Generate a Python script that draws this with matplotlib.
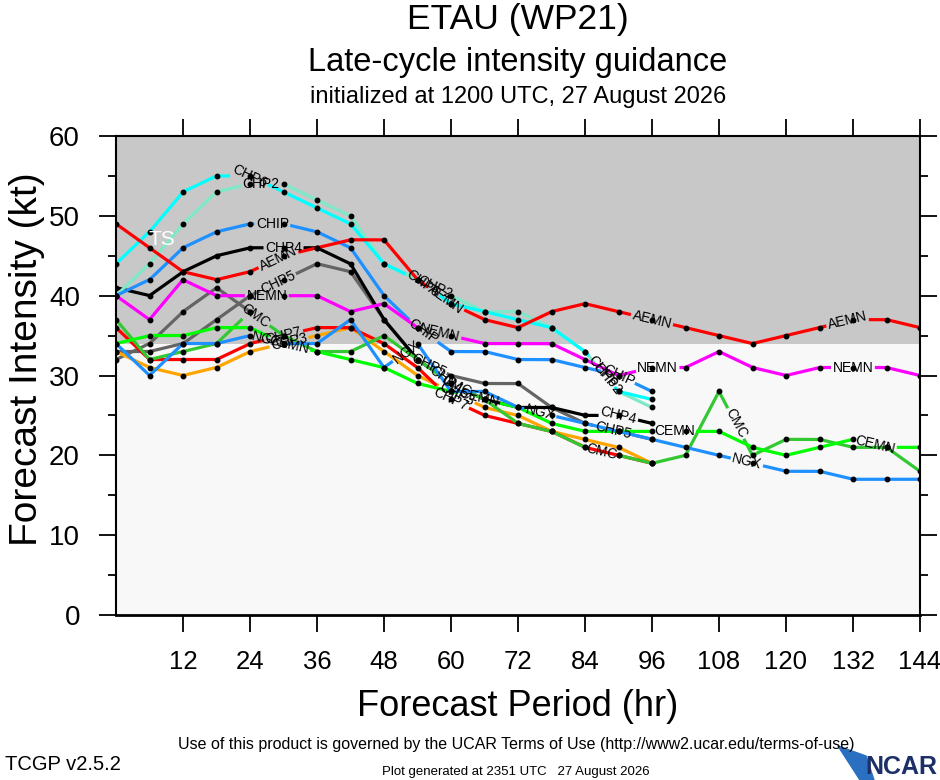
import numpy as np
import matplotlib
matplotlib.use('Agg')
import matplotlib.pyplot as plt
from matplotlib.patches import Polygon

plt.rcParams['font.family'] = ['Liberation Sans', 'DejaVu Sans']

# forecast hours every 6 h, intensities in kt
step = 6
aemn = [49, 46, 43, 42, 43, 45, 46, 47, 47, 42, 39, 37, 36, 38, 39, 38, 37,
        36, 35, 34, 35, 36, 37, 37, 36]
nemn = [40, 37, 42, 40, 40, 40, 40, 38, 39, 36, 35, 34, 34, 34, 32, 30, 31,
        31, 33, 31, 30, 31, 31, 31, 30]
cemn = [34, 35, 35, 36, 36, 34, 33, 32, 31, 29, 28, 27, 26, 24, 23, 23, 23,
        23, 23, 21, 20, 21, 22, 21, 21]
cmc = [37, 32, 33, 34, 38, 35, 33, 33, 35, 32, 29, 27, 24, 23, 21, 20, 19,
       20, 28, 20, 22, 22, 21, 21, 18]
ngx = [34, 30, 34, 34, 35, 34, 34, 37, 31, 34, 28, 28, 26, 25, 24, 23, 22,
       21, 20, 19, 18, 18, 17, 17, 17]
chip = [40, 42, 46, 48, 49, 49, 48, 46, 40, 36, 33, 33, 32, 32, 31, 30, 28]
chp2 = [40, 44, 49, 53, 54, 54, 52, 50, 44, 42, 40, 38, 38, 36, 33, 28, 26]
chp3 = [33, 31, 30, 31, 33, 34, 35, 36, 33, 30, 28, 26, 25, 23, 22, 21, 19]
chp4 = [41, 40, 43, 45, 46, 46, 46, 44, 37, 32, 29, 27, 26, 26, 25, 25, 24]
chp5 = [33, 33, 34, 37, 40, 42, 44, 43, 37, 32, 30, 29, 29, 26, 24, 23, 22]
chp6 = [44, 48, 53, 55, 55, 53, 51, 49, 44, 42, 39, 38, 37, 36, 33, 28, 27]
chp7 = [36, 32, 32, 32, 34, 35, 36, 36, 34, 31, 27, 25, 24, 23, 21, 20, 19]
short = [32, 34, 38, 41, 38]
ts_line = 34

# (name, values, colour, label hours)
models = [
    ('', short, '#646464', []),
    ('CHP5', chp5, '#646464', [29, 56, 89]),
    ('CHP4', chp4, 'black', [30, 59, 90]),
    ('CHP2', chp2, '#7fe8c8', [26, 57, 88]),
    ('CHP6', chp6, 'cyan', [24, 55, 87]),
    ('CHIP', chip, '#1e90ff', [28, 55, 90]),
    ('CHP3', chp3, 'orange', [31, 61]),
    ('CHP7', chp7, 'red', [30, 60]),
    ('CMC', cmc, '#32c832', [25, 61, 87, 111]),
    ('CEMN', cemn, '#00ff00', [31, 65, 100, 136]),
    ('NGX', ngx, '#1e90ff', [27, 52, 76, 113]),
    ('NEMN', nemn, 'magenta', [27, 58, 97, 132]),
    ('AEMN', aemn, 'red', [29, 59, 96, 131]),
]

fig = plt.figure(figsize=(9.4, 7.8), dpi=100)
ax = fig.add_axes([116 / 940, 165 / 780, 804 / 940, 479 / 780])
ax.set_xlim(0, 144)
ax.set_ylim(0, 60)
ax.set_facecolor('#f8f8f8')
ax.axhspan(ts_line, 60, color='#c8c8c8', zorder=0, lw=0)

fig.canvas.draw()
renderer = fig.canvas.get_renderer()
inv = ax.transData.inverted()


def text_width(s):
    t = ax.text(0, 0, s, fontsize=10)
    w = t.get_window_extent(renderer).width
    t.remove()
    return w


for k, (name, vals, col, lab_hrs) in enumerate(models):
    hrs = np.arange(len(vals)) * step
    pts = ax.transData.transform(np.column_stack([hrs, vals]))
    seg = np.hypot(np.diff(pts[:, 0]), np.diff(pts[:, 1]))
    s = np.concatenate([[0], np.cumsum(seg)])
    sd = np.union1d(np.linspace(0, s[-1], 3000), s)
    xd = np.interp(sd, s, pts[:, 0])
    yd = np.interp(sd, s, pts[:, 1])
    w = text_width(name) if name else 0
    for h in lab_hrs:
        sc = np.interp(h, hrs, s)
        gap = np.abs(sd - sc) < w / 2 + 3
        xd[gap] = np.nan
        yd[gap] = np.nan
        i = min(int(h // step), len(vals) - 2)
        v = np.interp(h, hrs, vals)
        ang = np.degrees(np.arctan2(pts[i + 1, 1] - pts[i, 1],
                                    pts[i + 1, 0] - pts[i, 0]))
        ax.text(h, v, name, fontsize=10, rotation=ang, rotation_mode='anchor',
                ha='center', va='center', zorder=4)
    line = inv.transform(np.column_stack([xd, yd]))
    ax.plot(line[:, 0], line[:, 1], color=col, lw=2.3, zorder=2 + k * 0.01)
    ax.plot(hrs, vals, 'o', color='black', ms=3.2, zorder=3)

ax.text(8.2, 47, 'TS', color='white', fontsize=15, ha='center', va='center',
        zorder=4)

ax.set_xticks(np.arange(12, 145, 12))
ax.set_yticks(np.arange(0, 61, 10))
ax.set_yticks(np.arange(5, 60, 10), minor=True)
ax.tick_params(axis='both', which='major', direction='out', length=12,
               width=1.3)
ax.tick_params(axis='x', which='major', labelsize=18.5, pad=13, top=True)
ax.tick_params(axis='y', which='major', labelsize=20, pad=14, right=True)
ax.tick_params(axis='y', which='minor', direction='out', length=6, width=1.3,
               right=True)
for sp in ax.spines.values():
    sp.set_linewidth(1.5)
ax.spines['bottom'].set_linewidth(2)

fig.text(518 / 940, 1 - 706 / 780, 'Forecast Period (hr)', fontsize=26,
         ha='center', va='center')
fig.text(27 / 940, 1 - 359 / 780, 'Forecast Intensity (kt)', fontsize=28,
         ha='center', va='center', rotation=90)

fig.text(518 / 940, 1 - 19 / 780, 'ETAU (WP21)', fontsize=25.5,
         ha='center', va='center')
fig.text(518 / 940, 1 - 62 / 780, 'Late-cycle intensity guidance',
         fontsize=23.5, ha='center', va='center')
fig.text(518 / 940, 1 - 97 / 780, 'initialized at 1200 UTC, 27 August 2026',
         fontsize=17, ha='center', va='center')

fig.text(516 / 940, 1 - 745 / 780,
         'Use of this product is governed by the UCAR Terms of Use '
         '(http://www2.ucar.edu/terms-of-use)', fontsize=11.5,
         ha='center', va='center')
fig.text(5 / 940, 1 - 765 / 780, 'TCGP v2.5.2', fontsize=14.5,
         ha='left', va='center')
fig.text(516 / 940, 1 - 772 / 780,
         'Plot generated at 2351 UTC   27 August 2026', fontsize=9.5,
         ha='center', va='center')

# NCAR logo
logo = Polygon([(838 / 940, 1 - 746 / 780), (866 / 940, 1 - 756 / 780),
                (874 / 940, 1 - 780 / 780), (860 / 940, 1 - 780 / 780)],
               closed=True, transform=fig.transFigure, color='#2a6fc0')
fig.patches.append(logo)
fig.text(937 / 940, 1 - 767 / 780, 'NCAR', fontsize=18, fontweight='bold',
         color='#1c2f66', ha='right', va='center')

plt.savefig('out.png', dpi=100)
plt.close()
